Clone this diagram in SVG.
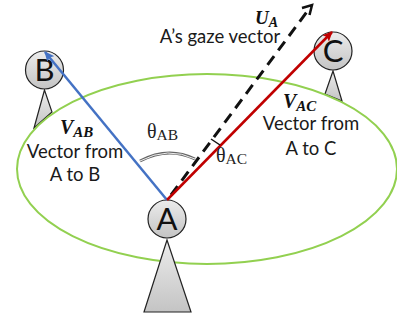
<svg xmlns="http://www.w3.org/2000/svg" width="397" height="320" viewBox="0 0 397 320">
<style>
.t{font-family:"Lato","Noto Sans",sans-serif;font-size:18.500px;fill:#1a1a1a;text-anchor:middle}
.l{font-family:"Lato","Noto Sans",sans-serif;font-size:31px;fill:#111;text-anchor:middle}
.m{font-family:"Liberation Serif",serif;font-weight:bold;font-style:italic;fill:#111}
.th{font-family:"Liberation Serif","DejaVu Serif",serif;fill:#222}
.tri{fill:url(#g);stroke:#222;stroke-width:1.200}
.c{fill:url(#g);stroke:#222;stroke-width:1.200}
</style>
<defs>
<linearGradient id="g" x1="0" y1="0" x2="0" y2="1"><stop offset="0" stop-color="#ececec"/><stop offset="1" stop-color="#c4c4c4"/></linearGradient>
<marker id="ab" markerWidth="10" markerHeight="9" refX="9" refY="4.500" orient="auto" markerUnits="userSpaceOnUse"><path d="M0,0 L10,4.500 L0,9 L2,4.500 Z" fill="#4472c4"/></marker>
<marker id="ar" markerWidth="10" markerHeight="9" refX="9" refY="4.500" orient="auto" markerUnits="userSpaceOnUse"><path d="M0,0 L10,4.500 L0,9 L2,4.500 Z" fill="#c00000"/></marker>
</defs>
<g id="node-B"><path class="tri" d="M44.500 90 L34 128 L52 112 Z"/><circle class="c" cx="44.500" cy="70" r="19"/><text class="l" x="44.500" y="81">B</text></g>
<g id="node-C"><path class="tri" d="M333 71 L325 94 L342 101 Z"/><circle class="c" cx="333" cy="51" r="19"/><text class="l" x="333" y="62">C</text></g>
<ellipse id="ellipse" cx="207" cy="169" rx="190" ry="95" fill="none" stroke="#92d050" stroke-width="2"/>
<g id="node-A"><path class="tri" d="M167 240 L144 312 L191 312 Z"/><circle class="c" cx="167" cy="219" r="19"/><text class="l" x="167" y="230">A</text></g>
<g id="connectors" fill="none">
<line x1="171" y1="195" x2="309" y2="9" stroke="#111" stroke-width="3" stroke-dasharray="11 7"/>
<path d="M302 8 L312 5 L309.500 15" stroke="#111" stroke-width="2.500"/>
<line x1="167" y1="200" x2="45" y2="52" stroke="#4472c4" stroke-width="2.500" marker-end="url(#ab)"/>
<line x1="167" y1="200" x2="332" y2="32" stroke="#c00000" stroke-width="2.500" marker-end="url(#ar)"/>
<path d="M140 161 Q168 146 195 159" stroke="#666" stroke-width="3"/>
<path d="M140 161 Q168 146 195 159" stroke="#eee" stroke-width="1"/>
<path d="M211 139 L220 145" stroke="#111" stroke-width="1.500"/>
</g>
<g id="labels">
<text class="m" x="255" y="24" font-size="19">U<tspan font-size="14" dy="3">A</tspan></text>
<text class="t" x="220" y="42.500">A’s gaze vector</text>
<text class="m" x="60" y="134" font-size="20">V<tspan font-size="15" dy="3">AB</tspan></text>
<text class="t" x="75" y="158">Vector from</text>
<text class="t" x="75" y="181">A to B</text>
<text class="m" x="283" y="108" font-size="20">V<tspan font-size="15" dy="3">AC</tspan></text>
<text class="t" x="311" y="130">Vector from</text>
<text class="t" x="311" y="155">A to C</text>
<text class="th" x="147" y="138" font-size="20">θ<tspan font-size="15.500" dy="2">AB</tspan></text>
<text class="th" x="216" y="162" font-size="20">θ<tspan font-size="15.500" dy="2">AC</tspan></text>
</g>
</svg>
